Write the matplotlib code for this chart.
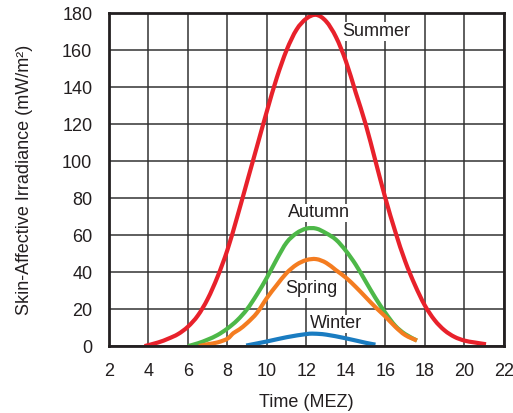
import matplotlib
matplotlib.use("Agg")
import matplotlib.pyplot as plt
from matplotlib.path import Path
from matplotlib.patches import PathPatch

plt.rcParams['font.family'] = ['Liberation Sans', 'DejaVu Sans']

summer_x = [3.8, 4.5, 5, 5.5, 6, 6.5, 7, 7.5, 8, 8.5, 9, 9.5, 10, 10.5, 11, 11.5, 12, 12.5,
            13, 13.5, 14, 14.5, 15, 15.5, 16, 16.5, 17, 17.5, 18, 18.5, 19, 19.5, 20, 20.5, 21.1]
summer_y = [0, 2, 4, 6.5, 10.5, 16.5, 25.5, 37.5, 52, 70, 89, 108, 127, 145, 160, 171, 177, 179,
            175.5, 167, 154, 137, 120, 100, 80, 62, 46, 33, 22, 14, 8.5, 5, 3, 2, 1]

autumn_x = [6.0, 6.5, 7, 7.5, 8, 8.5, 9, 9.5, 10, 10.5, 11, 11.5, 12, 12.5, 13, 13.5,
            14, 14.5, 15, 15.5, 16, 16.5, 17, 17.6]
autumn_y = [0, 1.5, 3.5, 6, 9.5, 14, 20, 28, 37, 47, 56, 61, 63.5, 63.5, 61, 57.5,
            51.5, 44, 35, 26, 18, 11, 6.5, 3]

spring_x = [6.55, 7, 7.5, 8, 8.3, 8.6, 9, 9.5, 10, 10.5, 11, 11.5, 12, 12.5, 13, 13.5,
            14, 14.5, 15, 15.5, 16, 16.5, 17, 17.6]
spring_y = [0, 1, 2, 4, 7, 9, 12.5, 18, 26, 33, 39.5, 44, 46.5, 47, 45, 41,
            37, 32, 26.5, 21, 16, 10.5, 6, 3]

winter_x = [8.95, 10, 11, 12, 12.4, 13, 14, 15, 15.5]
winter_y = [0.3, 2.5, 4.8, 6.5, 6.7, 6.2, 4.2, 1.8, 0.8]

x_ticks = [2, 4, 6, 8, 10, 12, 14, 16, 18, 20, 22]
y_ticks = [0, 20, 40, 60, 80, 100, 120, 140, 160, 180]

labels = [("Summer", 13.8, 170), ("Autumn", 11.05, 72), ("Spring", 10.95, 31), ("Winter", 12.2, 12)]


def smooth_path(xs, ys):
    """Build a Bezier path through the given data points (Catmull-Rom style handles)."""
    pts = list(zip(xs, ys))
    n = len(pts)
    verts = [pts[0]]
    codes = [Path.MOVETO]
    for i in range(n - 1):
        p0 = pts[i - 1] if i > 0 else pts[i]
        p1 = pts[i]
        p2 = pts[i + 1]
        p3 = pts[i + 2] if i + 2 < n else pts[i + 1]
        c1 = (p1[0] + (p2[0] - p0[0]) / 6.0, p1[1] + (p2[1] - p0[1]) / 6.0)
        c2 = (p2[0] - (p3[0] - p1[0]) / 6.0, p2[1] - (p3[1] - p1[1]) / 6.0)
        verts += [c1, c2, p2]
        codes += [Path.CURVE4] * 3
    return Path(verts, codes)


fig = plt.figure(figsize=(5.13, 4.13), dpi=100)
ax = fig.add_axes([0.2125, 0.162, 0.7695, 0.8065])

lw = 3.0
series = [(summer_x, summer_y, '#e8212b', 3),
          (autumn_x, autumn_y, '#4db848', 3),
          (spring_x, spring_y, '#f47c20', 4),
          (winter_x, winter_y, '#1a7cc1', 3)]
for xs, ys, col, z in series:
    patch = PathPatch(smooth_path(xs, ys), facecolor='none', edgecolor=col, lw=lw,
                      capstyle='butt', joinstyle='round', transform=ax.transData, zorder=z)
    ax.add_patch(patch)

for txt, x, y in labels:
    ax.text(x, y, txt, fontsize=13, color='#231f20', ha='left', va='center',
            bbox=dict(facecolor='white', edgecolor='none', pad=0.5), zorder=2)

ax.set_xlim(2, 22)
ax.set_ylim(0, 180)
ax.set_xticks(x_ticks)
ax.set_yticks(y_ticks)
ax.tick_params(length=0, labelsize=13, colors='#231f20', pad=12)
ax.grid(True, color='#333333', lw=1.1, zorder=1)
ax.set_axisbelow(True)
for s in ax.spines.values():
    s.set_linewidth(2.0)
    s.set_color('#231f20')
    s.set_zorder(5)

ax.set_xlabel("Time (MEZ)", fontsize=13, color='#231f20', labelpad=10)
ax.set_ylabel("Skin-Affective Irradiance (mW/m²)", fontsize=13, color='#231f20', labelpad=21)

fig.savefig("out.png", dpi=100)
